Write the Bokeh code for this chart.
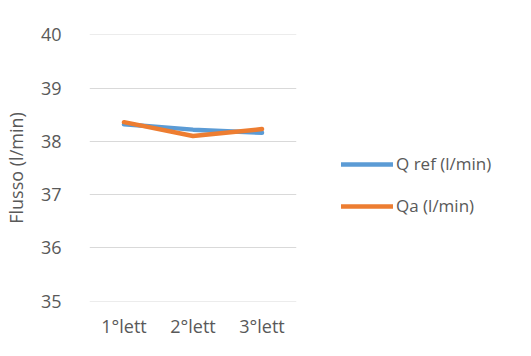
from bokeh.plotting import figure
from bokeh.layouts import row
from bokeh.models import FactorRange, Range1d, Legend, LegendItem, SingleIntervalTicker, ColumnDataSource
from bokeh.embed import file_html
from bokeh.resources import INLINE

categories = ["1°lett", "2°lett", "3°lett"]
q_ref = [38.32, 38.22, 38.16]
q_a = [38.36, 38.10, 38.23]
series_names = ["Q ref (l/min)", "Qa (l/min)"]
colors = ["#5B9BD5", "#ED7D31"]

FONT = "Open Sans"
GREY = "#595959"
FS = "18px"

p = figure(width=300, height=340, x_range=FactorRange(*categories, range_padding=0),
           y_range=Range1d(34.995, 40.005), output_backend="svg", toolbar_location=None,
           min_border_left=80, min_border_right=4, min_border_top=34, min_border_bottom=31)
p.outline_line_color = None
p.xgrid.grid_line_color = None
p.ygrid.grid_line_color = "#D9D9D9"
p.ygrid.grid_line_width = 1
p.yaxis.ticker = SingleIntervalTicker(interval=1)

for ax in (p.xaxis, p.yaxis):
    ax.axis_line_color = None
    ax.major_tick_line_color = None
    ax.minor_tick_line_color = None
    ax.major_label_text_font = FONT
    ax.major_label_text_font_size = FS
    ax.major_label_text_color = GREY
p.yaxis.major_label_standoff = 22
p.xaxis.major_label_standoff = 6
p.yaxis.axis_label = "Flusso (l/min)"
p.yaxis.axis_label_text_font = FONT
p.yaxis.axis_label_text_font_size = FS
p.yaxis.axis_label_text_font_style = "normal"
p.yaxis.axis_label_text_color = GREY
p.yaxis.axis_label_standoff = 10

src = ColumnDataSource(dict(x=categories, ref=q_ref, a=q_a))
p.line("x", "ref", source=src, line_color=colors[0], line_width=4.5, line_cap="round")
p.line("x", "a", source=src, line_color=colors[1], line_width=4.5, line_cap="round")

# legend panel (series drawn outside its visible range; only the legend shows)
lg = figure(width=215, height=340, x_range=FactorRange(*categories), y_range=Range1d(0, 1),
            output_backend="svg", toolbar_location=None, min_border=0)
lg.axis.visible = False
lg.grid.visible = False
lg.outline_line_color = None
items = []
for name, c, col in zip(series_names, colors, ["ref", "a"]):
    r = lg.line("x", col, source=src, line_color=c, line_width=4.5, line_cap="round")
    items.append(LegendItem(label=name, renderers=[r]))
legend = Legend(items=items, location=(41, 84), orientation="vertical",
                glyph_width=52, glyph_height=20, spacing=19, label_standoff=3,
                label_text_font=FONT, label_text_font_size="17px", label_text_color=GREY,
                background_fill_alpha=0, border_line_color=None, padding=0, margin=0)
lg.add_layout(legend, "center")

open("out.html", "w").write(file_html(row(p, lg, spacing=0), INLINE))
